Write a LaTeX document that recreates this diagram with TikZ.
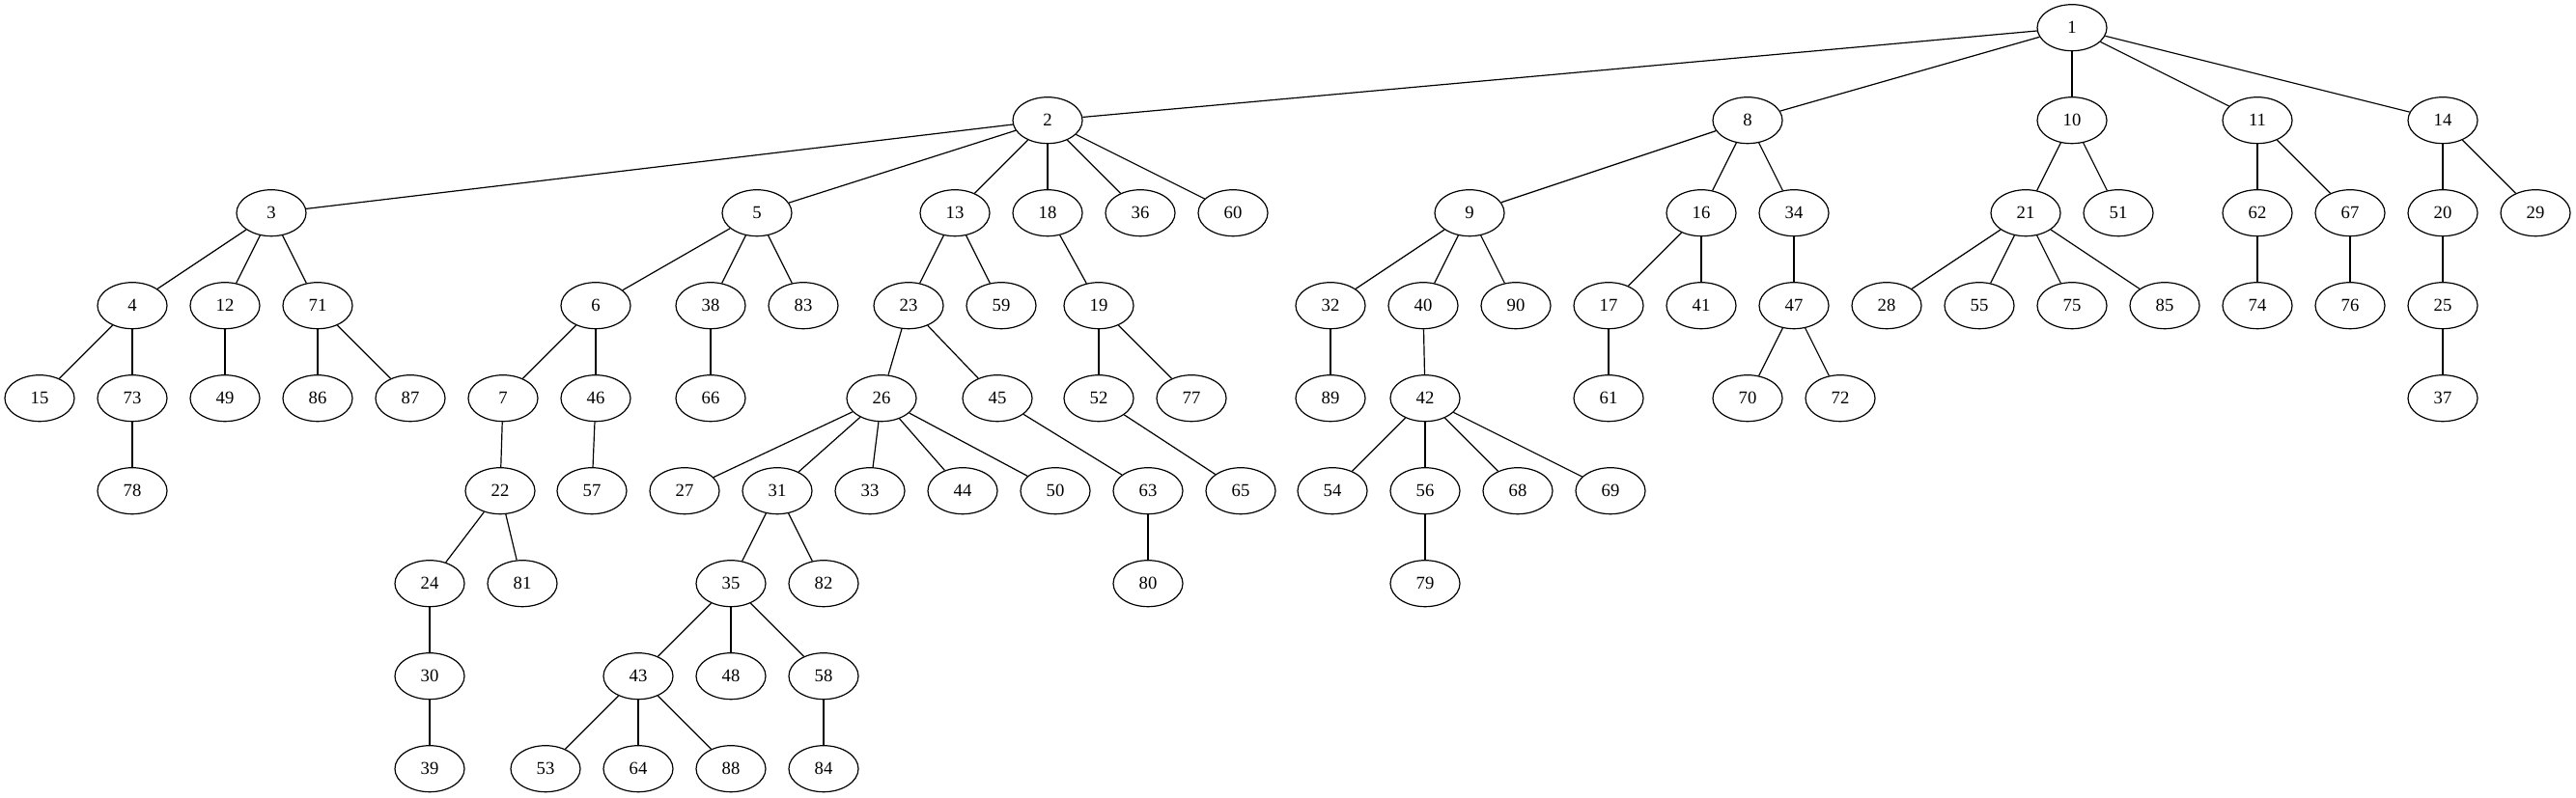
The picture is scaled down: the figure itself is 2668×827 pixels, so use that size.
\documentclass[tikz,border=0pt]{standalone}
\usepackage{fontspec}
\setmainfont{Liberation Serif}
\usetikzlibrary{shapes.geometric}
\begin{document}
\begin{tikzpicture}[x=0.75pt,y=-0.75pt,
  nd/.style={draw,ellipse,line width=0.9pt,minimum width=54pt,minimum height=36pt,inner sep=0pt,font=\fontsize{14}{16}\selectfont},
  edge/.style={line width=0.9pt}]
\fill[white] (0,0) rectangle (2668,827);
\useasboundingbox (0,0) rectangle (2668,827);
% row 0
\node[nd] (n1) at (2146,28.7) {1};
% row 1
\foreach \n/\x in {2/1085,8/1810,10/2146,11/2338,14/2530}
  \node[nd] (n\n) at (\x,124.7) {\n};
% row 2
\foreach \n/\x in {3/281,5/784,13/989,18/1085,36/1181,60/1277,9/1522,16/1762,34/1858,21/2098,51/2194,62/2338,67/2434,20/2530,29/2626}
  \node[nd] (n\n) at (\x,220.7) {\n};
% row 3
\foreach \n/\x in {4/137,12/233,71/329,6/617,38/736,83/832,23/941,59/1037,19/1138,32/1378,40/1474,90/1570,17/1666,41/1762,47/1858,28/1954,55/2050,75/2146,85/2242,74/2338,76/2434,25/2530}
  \node[nd] (n\n) at (\x,316.7) {\n};
% row 4
\foreach \n/\x in {15/41,73/137,49/233,86/329,87/425,7/521,46/617,66/736,26/913,45/1033,52/1138,77/1234,89/1378,42/1476,61/1666,70/1810,72/1906,37/2530}
  \node[nd] (n\n) at (\x,412.7) {\n};
% row 5
\foreach \n/\x in {78/137,22/518,57/613,27/709,31/805,33/901,44/997,50/1093,63/1189,65/1285,54/1380,56/1476,68/1572,69/1668}
  \node[nd] (n\n) at (\x,508.7) {\n};
% row 6
\foreach \n/\x in {24/445,81/541,35/757,82/853,80/1189,79/1476}
  \node[nd] (n\n) at (\x,604.7) {\n};
% row 7
\foreach \n/\x in {30/445,43/661,48/757,58/853}
  \node[nd] (n\n) at (\x,700.7) {\n};
% row 8
\foreach \n/\x in {39/445,53/565,64/661,88/757,84/853}
  \node[nd] (n\n) at (\x,796.7) {\n};
% edges
\foreach \a/\b in {1/2,1/8,1/10,1/11,1/14,
  2/3,2/5,2/13,2/18,2/36,2/60,
  3/4,3/12,3/71,4/15,4/73,73/78,12/49,71/86,71/87,
  5/6,5/38,5/83,6/7,6/46,7/22,22/24,22/81,24/30,30/39,46/57,38/66,
  13/23,13/59,23/26,23/45,26/27,26/31,26/33,26/44,26/50,
  31/35,31/82,35/43,35/48,35/58,43/53,43/64,43/88,58/84,
  45/63,63/80,18/19,19/52,19/77,52/65,
  8/9,8/16,8/34,9/32,9/40,9/90,32/89,40/42,
  42/54,42/56,42/68,42/69,56/79,16/17,16/41,17/61,34/47,47/70,47/72,
  10/21,10/51,21/28,21/55,21/75,21/85,
  11/62,11/67,62/74,67/76,14/20,14/29,20/25,25/37}
  \draw[edge] (n\a) -- (n\b);
\end{tikzpicture}
\end{document}
